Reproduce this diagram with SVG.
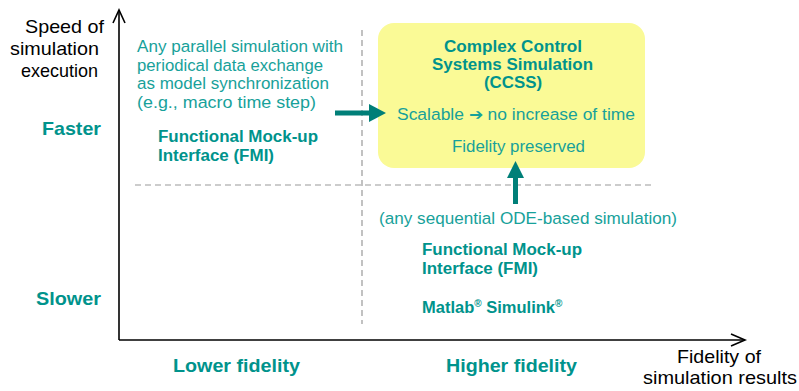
<svg xmlns="http://www.w3.org/2000/svg" width="799" height="391" viewBox="0 0 799 391">
<style>
.ax{stroke:#000;stroke-width:1.6;fill:none}
.dash{stroke:#999;stroke-width:1.2;stroke-dasharray:6,4;fill:none}
text{font-family:"Liberation Sans",Arial,sans-serif}
.blk{font-size:18.5px;fill:#000}
.t{font-size:16.3px;fill:#17a19a}
.b{font-weight:bold;fill:#00938c}
.arr{stroke:#007f78;stroke-width:5;fill:none}
.head{fill:#007f78}
</style>
<g id="axes">
<line class="ax" x1="119" y1="10" x2="119" y2="340"/>
<polyline class="ax" points="113,23 119,10 125,23"/>
<line class="ax" x1="119" y1="340" x2="745" y2="340"/>
<polyline class="ax" points="731,334 745,340 731,346"/>
<line class="dash" x1="362" y1="30" x2="362" y2="324"/>
<line class="dash" x1="135" y1="185" x2="653" y2="185"/>
</g>
<g id="labels">
<text class="blk" x="25" y="33" textLength="79" lengthAdjust="spacingAndGlyphs">Speed of</text>
<text class="blk" x="10" y="55" textLength="89" lengthAdjust="spacingAndGlyphs">simulation</text>
<text class="blk" x="21" y="77" textLength="77" lengthAdjust="spacingAndGlyphs">execution</text>
<text class="blk" x="677" y="363" textLength="84" lengthAdjust="spacingAndGlyphs">Fidelity of</text>
<text class="blk" x="643" y="384" textLength="154" lengthAdjust="spacingAndGlyphs">simulation results</text>
<text class="b" font-size="19" x="42" y="135" textLength="59" lengthAdjust="spacingAndGlyphs">Faster</text>
<text class="b" font-size="19" x="36" y="305" textLength="65" lengthAdjust="spacingAndGlyphs">Slower</text>
<text class="b" font-size="19" x="173" y="372" textLength="127" lengthAdjust="spacingAndGlyphs">Lower fidelity</text>
<text class="b" font-size="19" x="446" y="372" textLength="131" lengthAdjust="spacingAndGlyphs">Higher fidelity</text>
</g>
<g id="parallel">
<text class="t" x="137" y="52" textLength="206" lengthAdjust="spacingAndGlyphs">Any parallel simulation with</text>
<text class="t" x="137" y="71" textLength="186" lengthAdjust="spacingAndGlyphs">periodical data exchange</text>
<text class="t" x="137" y="89" textLength="192" lengthAdjust="spacingAndGlyphs">as model synchronization</text>
<text class="t" x="137" y="108" textLength="179" lengthAdjust="spacingAndGlyphs">(e.g., macro time step)</text>
</g>
<g id="fmi-fast">
<text class="b" font-size="16" x="158" y="142" textLength="160" lengthAdjust="spacingAndGlyphs">Functional Mock-up</text>
<text class="b" font-size="16" x="158" y="161" textLength="116" lengthAdjust="spacingAndGlyphs">Interface (FMI)</text>
</g>
<g id="ccss">
<rect x="378" y="23" width="267" height="145" rx="16" fill="#fafa96"/>
<text class="b" font-size="16.5" x="444" y="52" textLength="138" lengthAdjust="spacingAndGlyphs">Complex Control</text>
<text class="b" font-size="16.5" x="432" y="70" textLength="161" lengthAdjust="spacingAndGlyphs">Systems Simulation</text>
<text class="b" font-size="16.5" x="484" y="88" textLength="58" lengthAdjust="spacingAndGlyphs">(CCSS)</text>
<text class="t" x="397" y="120" textLength="238" lengthAdjust="spacingAndGlyphs">Scalable ➔ no increase of time</text>
<text class="t" x="452" y="152" textLength="133" lengthAdjust="spacingAndGlyphs">Fidelity preserved</text>
</g>
<g id="sequential">
<text class="t" x="379" y="224" textLength="298" lengthAdjust="spacingAndGlyphs">(any sequential ODE-based simulation)</text>
</g>
<g id="fmi-slow">
<text class="b" font-size="16" x="422" y="255" textLength="160" lengthAdjust="spacingAndGlyphs">Functional Mock-up</text>
<text class="b" font-size="16" x="422" y="274" textLength="116" lengthAdjust="spacingAndGlyphs">Interface (FMI)</text>
</g>
<g id="matlab">
<text class="b" font-size="16.5" x="422" y="313">Matlab<tspan font-size="10" dy="-6">®</tspan><tspan dy="6"> Simulink</tspan><tspan font-size="10" dy="-6">®</tspan></text>
</g>
<g id="connectors">
<line class="arr" x1="335" y1="113" x2="371" y2="113"/>
<polygon class="head" points="369,104 386,113 369,122"/>
<line class="arr" x1="515.5" y1="204" x2="515.5" y2="176"/>
<polygon class="head" points="507,178 515.5,161 524,178"/>
</g>
</svg>
